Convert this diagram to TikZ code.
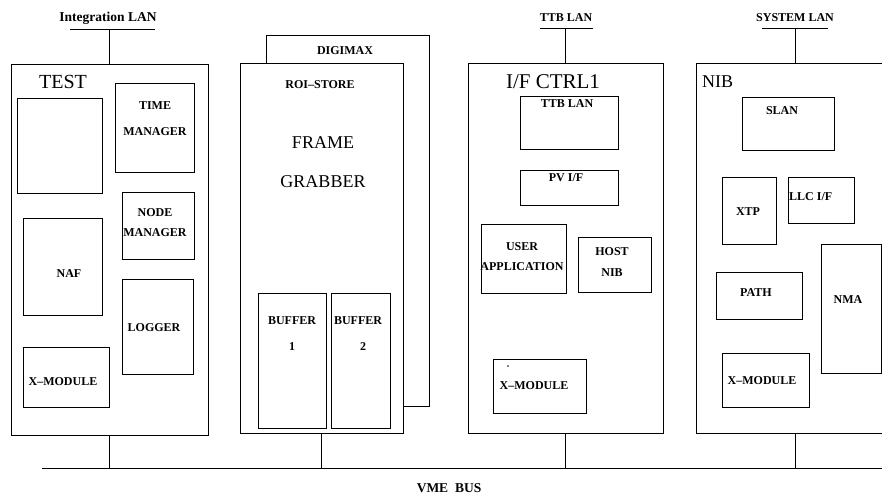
\documentclass[tikz,border=0pt]{standalone}
\usepackage{fontspec}
\setmainfont{Liberation Serif}
\begin{document}
\begin{tikzpicture}[x=1pt,y=-1pt,
  box/.style={draw,line width=0.9pt,inner sep=0pt,outer sep=0pt,anchor=north west},
  wire/.style={line width=0.9pt},
  lbl/.style={inner sep=0pt,font=\bfseries\fontsize{12}{13}\selectfont},
  lblL/.style={inner sep=0pt,font=\bfseries\fontsize{13.5}{14}\selectfont},
  big/.style={inner sep=0pt,font=\fontsize{20}{22}\selectfont}]
\useasboundingbox (0,0) rectangle (882,499);
% bus
\coordinate (busL) at (42,468);
\coordinate (busR) at (882,468);
\draw[wire] (busL) -- (busR);
\node[lblL] (vme) at (449,488) {VME\ \ BUS};

% ---------- TEST ----------
\node[box,minimum width=197,minimum height=371] (test) at (11,64) {};
\node[big] (testl) at (63,82) {TEST};
\node[box,minimum width=85,minimum height=95] (empty) at (17,98) {};
\node[box,minimum width=79,minimum height=89] (time) at (115,83) {};
\node[lbl] at (155,106) {TIME};
\node[lbl] at (155,132) {MANAGER};
\node[box,minimum width=72,minimum height=67] (nodem) at (122,192) {};
\node[lbl] at (155,213) {NODE};
\node[lbl] at (155,233) {MANAGER};
\node[box,minimum width=79,minimum height=97] (naf) at (23,218) {};
\node[lbl] at (69,274) {NAF};
\node[box,minimum width=71,minimum height=95] (logger) at (122,279) {};
\node[lbl] at (154,328) {LOGGER};
\node[box,minimum width=86,minimum height=60] (xm1) at (23,347) {};
\node[lbl] at (63,382) {X--MODULE};
\coordinate (ilan1) at (70,29);
\coordinate (ilan2) at (155,29);
\draw[wire] (ilan1) -- (ilan2);
\node[lblL] (ilanl) at (108,18) {Integration LAN};
\draw[wire] (test.north) -- (test.north |- ilan1);
\draw[wire] (test.south) -- (test.south |- busL);

% ---------- FRAME GRABBER ----------
\node[box,minimum width=163,minimum height=371,fill=white] (digi) at (266,35) {};
\node[lbl] at (345,51) {DIGIMAX};
\node[box,minimum width=163,minimum height=370,fill=white] (roi) at (240,63) {};
\node[lbl] at (320,85) {ROI--STORE};
\node[inner sep=0pt,font=\fontsize{18}{20}\selectfont] at (323,143) {FRAME};
\node[inner sep=0pt,font=\fontsize{18}{20}\selectfont] at (323,182) {GRABBER};
\node[box,minimum width=68,minimum height=135] (buf1) at (258,293) {};
\node[lbl] at (292,321) {BUFFER};
\node[lbl] at (292,347) {1};
\node[box,minimum width=59,minimum height=135] (buf2) at (331,293) {};
\node[lbl] at (358,321) {BUFFER};
\node[lbl] at (363,347) {2};
\draw[wire] (roi.south) -- (roi.south |- busL);

% ---------- I/F CTRL1 ----------
\node[box,minimum width=195,minimum height=370] (ifc) at (468,63) {};
\node[inner sep=0pt,font=\fontsize{21}{23}\selectfont] at (553,82) {I/F CTRL1};
\node[box,minimum width=98,minimum height=53] (ttb) at (520,96) {};
\node[lbl] at (567,104) {TTB LAN};
\node[box,minimum width=98,minimum height=35] (pv) at (520,170) {};
\node[lbl] at (566,178) {PV I/F};
\node[box,minimum width=85,minimum height=69] (user) at (481,224) {};
\node[lbl] at (522,247) {USER};
\node[lbl] at (522,267) {APPLICATION};
\node[box,minimum width=73,minimum height=55] (host) at (578,237) {};
\node[lbl] at (612,252) {HOST};
\node[lbl] at (612,273) {NIB};
\node[box,minimum width=93,minimum height=54] (xm2) at (493,359) {};
\node[lbl] at (534,386) {X--MODULE};
\fill (508,366) circle (0.8);
\coordinate (tlan1) at (540,28);
\coordinate (tlan2) at (593,28);
\draw[wire] (tlan1) -- (tlan2);
\node[lbl] (tlanl) at (566,18) {TTB LAN};
\draw[wire] (ifc.north) -- (ifc.north |- tlan1);
\draw[wire] (ifc.south) -- (ifc.south |- busL);

% ---------- NIB ----------
\coordinate (nibtop) at (795,63);
\coordinate (nibbot) at (795,433);
\draw[wire] (882,63) -- (696,63) -- (696,433) -- (882,433);
\node[inner sep=0pt,font=\fontsize{18}{20}\selectfont,anchor=west] at (702,82) {NIB};
\node[box,minimum width=92,minimum height=53] (slan) at (742,97) {};
\node[lbl] at (782,111) {SLAN};
\node[box,minimum width=54,minimum height=67] (xtp) at (722,177) {};
\node[lbl] at (748,212) {XTP};
\node[box,minimum width=66,minimum height=46] (llc) at (788,177) {};
\node[lbl,anchor=west] at (789,197) {LLC I/F};
\node[box,minimum width=86,minimum height=47] (path) at (716,272) {};
\node[lbl] at (756,293) {PATH};
\node[box,minimum width=60,minimum height=129] (nma) at (821,244) {};
\node[lbl] at (848,300) {NMA};
\node[box,minimum width=87,minimum height=54] (xm3) at (722,353) {};
\node[lbl] at (762,381) {X--MODULE};
\coordinate (slan1) at (762,28);
\coordinate (slan2) at (828,28);
\draw[wire] (slan1) -- (slan2);
\node[lbl] (slanl) at (795,18) {SYSTEM LAN};
\draw[wire] (nibtop) -- (nibtop |- slan1);
\draw[wire] (nibbot) -- (nibbot |- busL);
\end{tikzpicture}
\end{document}
